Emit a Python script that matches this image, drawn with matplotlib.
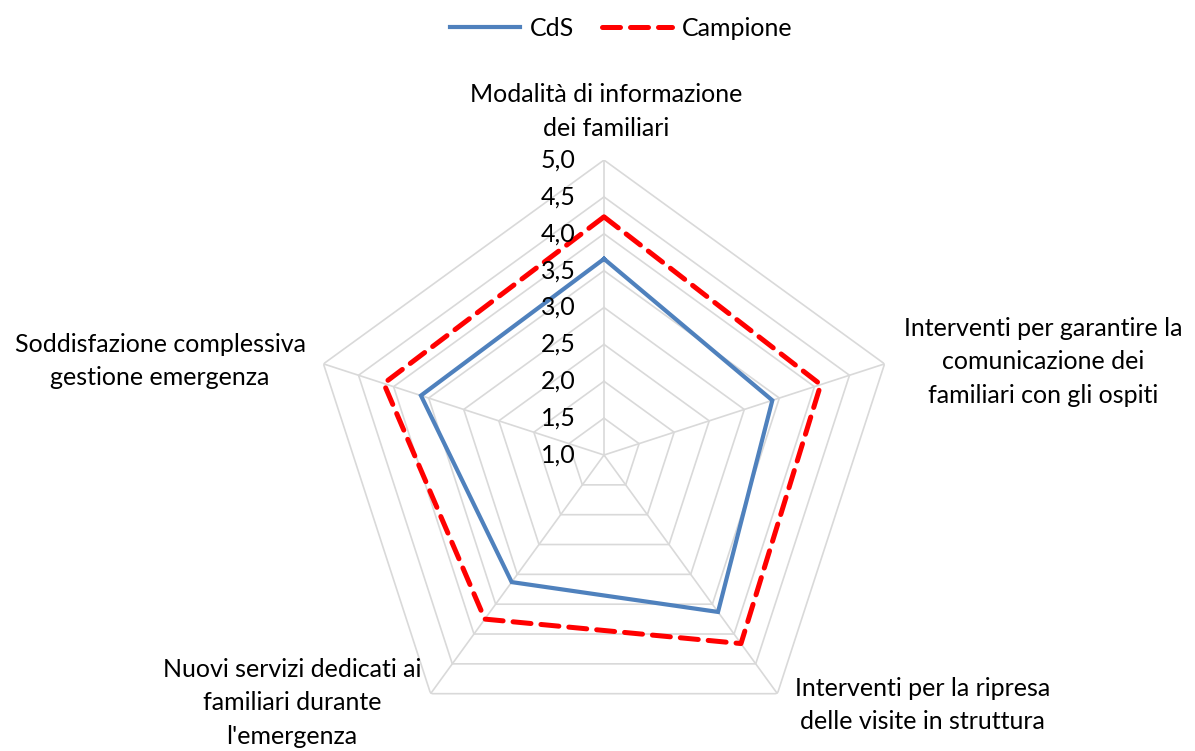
import numpy as np
import matplotlib.pyplot as plt
from matplotlib.lines import Line2D

plt.rcParams['font.family'] = ['Lato', 'DejaVu Sans']

categories = ["Modalità di informazione\ndei familiari",
              "Interventi per garantire la\ncomunicazione dei\nfamiliari con gli ospiti",
              "Interventi per la ripresa\ndelle visite in struttura",
              "Nuovi servizi dedicati ai\nfamiliari durante\nl'emergenza",
              "Soddisfazione complessiva\ngestione emergenza"]
cds = [3.66, 3.40, 3.63, 3.13, 3.61]
campione = [4.23, 4.09, 4.16, 3.75, 4.14]
rings = [1.0, 1.5, 2.0, 2.5, 3.0, 3.5, 4.0, 4.5, 5.0]
ring_labels = ["1,0", "1,5", "2,0", "2,5", "3,0", "3,5", "4,0", "4,5", "5,0"]

n = len(categories)
angles = np.pi / 2 - np.arange(n) * 2 * np.pi / n
ang_c = np.append(angles, angles[0])

fs = 18
fig = plt.figure(figsize=(11.95, 7.51), dpi=100)
ax = fig.add_axes([0.2586, 0.0013, 0.4937, 0.7856], projection='polar')
ax.set_rlim(1, 5)
ax.grid(False)
ax.spines['polar'].set_visible(False)
ax.set_xticks([])
ax.set_yticks([])

grid_col = '#d9d9d9'
for r in rings:
    ax.plot(ang_c, [r] * (n + 1), color=grid_col, lw=1.2, zorder=1)
for a in angles:
    ax.plot([a, a], [1, 5], color=grid_col, lw=1.2, zorder=1)

for r, lab in zip(rings, ring_labels):
    ax.annotate(lab, xy=(np.pi / 2, r), xytext=(-20.5, 0), textcoords='offset points',
                ha='right', va='center', fontsize=fs, color='#000000', zorder=5)

ax.plot(ang_c, cds + cds[:1], color='#4F81BD', lw=3, zorder=3,
        solid_joinstyle='miter')
ax.plot(ang_c, campione + campione[:1], color='#FF0000', lw=3.6, zorder=4,
        dashes=(3.6, 2.0), dash_capstyle='round')

# category labels
ls = 1.55
fig.text(0.507, 0.8515, categories[0], ha='center', va='center', fontsize=fs, linespacing=ls)
fig.text(0.873, 0.518, categories[1], ha='center', va='center', fontsize=fs, linespacing=ls)
fig.text(0.772, 0.061, categories[2], ha='center', va='center', fontsize=fs, linespacing=ls)
fig.text(0.2443, 0.064, categories[3], ha='center', va='center', fontsize=fs, linespacing=ls)
fig.text(0.134, 0.519, categories[4], ha='center', va='center', fontsize=fs, linespacing=ls)

handles = [Line2D([], [], color='#4F81BD', lw=3),
           Line2D([], [], color='#FF0000', lw=3.6, dashes=(3.6, 2.0), dash_capstyle='round')]
fig.legend(handles, ["CdS", "Campione"], loc='center', bbox_to_anchor=(0.52, 0.962),
           ncol=2, frameon=False, fontsize=fs, handlelength=2.8, columnspacing=1.1,
           handletextpad=0.4)

fig.savefig("out.png", dpi=100)
